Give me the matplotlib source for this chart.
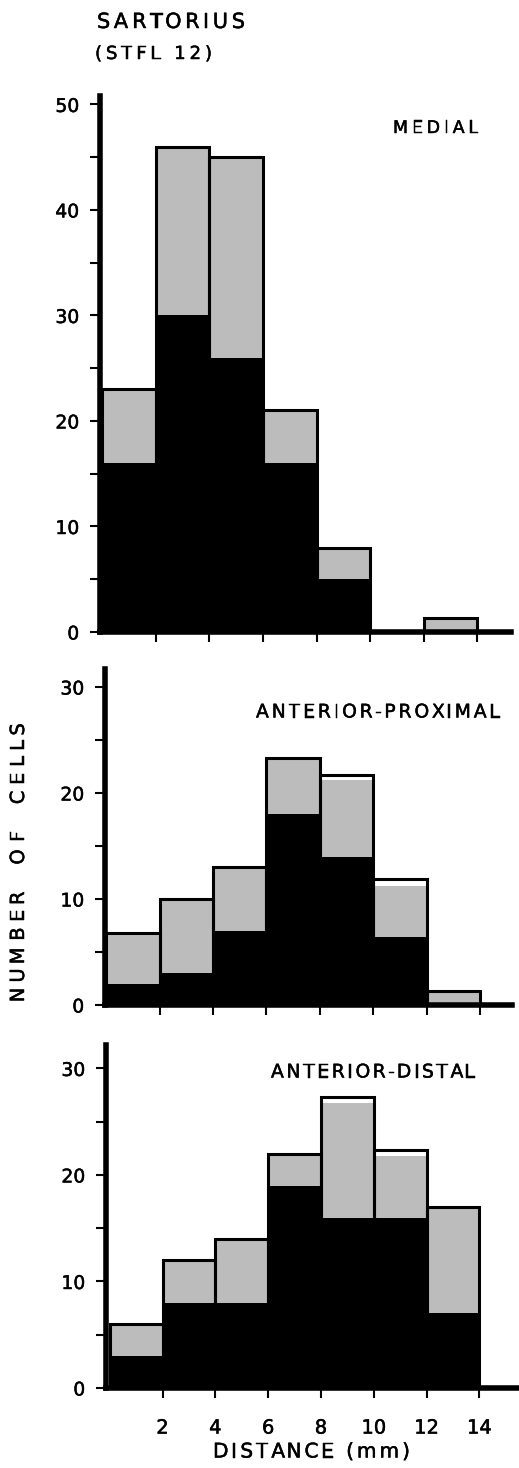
import matplotlib
matplotlib.use("Agg")
import matplotlib.pyplot as plt
import matplotlib.patheffects as pe
from matplotlib.font_manager import FontProperties

plt.rcParams['font.family'] = ['DejaVu Sans']

W, H = 519, 1468

# Distance bins (mm): left edges, each 2 mm wide
bin_left = [0, 2, 4, 6, 8, 10, 12]
bin_width = 2

# Stacked counts per bin: black (bottom), stippled (cumulative top), open (cumulative total)
medial_black = [16, 30, 26, 16, 5, 0, 0]
medial_gray = [23, 46, 45, 21, 8, 0, 1.3]
medial_total = [23, 46, 45, 21, 8, 0, 1.3]

ant_prox_black = [2, 3, 7, 18, 14, 6.4, 0]
ant_prox_gray = [6.8, 10, 13, 23.3, 21.2, 11.2, 1.3]
ant_prox_total = [6.8, 10, 13, 23.3, 21.7, 11.9, 1.3]

ant_dist_black = [3, 8, 8, 19, 16, 16, 7]
ant_dist_gray = [6, 12, 14, 22, 26.8, 21.8, 17]
ant_dist_total = [6, 12, 14, 22, 27.3, 22.3, 17]

x_ticks = [2, 4, 6, 8, 10, 12, 14]

GRAY = '#bcbcbc'
THICK = [pe.withStroke(linewidth=0.35, foreground='black')]

fig = plt.figure(figsize=(W / 100, H / 100), dpi=100)
renderer = fig.canvas.get_renderer()


def add_axes_px(x0, x1, ybot, ytop):
    return fig.add_axes([x0 / W, 1 - ybot / H, (x1 - x0) / W, (ybot - ytop) / H])


def draw_panel(ax, black, gray, total, xlim, ymax, ytick_max, label_ticks, show_xlabels):
    ax.bar(bin_left, total, width=bin_width, align='edge', color='white',
           edgecolor='none', zorder=1)
    ax.bar(bin_left, gray, width=bin_width, align='edge', color=GRAY,
           edgecolor='none', zorder=2)
    ax.bar(bin_left, black, width=bin_width, align='edge', color='black',
           edgecolor='none', zorder=3)
    for l, t in zip(bin_left, total):
        if t > 0:
            ax.bar(l, t, width=bin_width, align='edge', facecolor='none',
                   edgecolor='black', linewidth=2.2, zorder=4)
    ax.set_xlim(*xlim)
    ax.set_ylim(0, ymax)
    for s in ('top', 'right'):
        ax.spines[s].set_visible(False)
    ax.spines['left'].set_linewidth(4)
    ax.spines['bottom'].set_linewidth(4)
    ax.spines['left'].set_zorder(5)
    ax.spines['bottom'].set_zorder(5)
    yt = list(range(0, ytick_max + 1, 5))
    ax.set_yticks(yt)
    ax.set_yticklabels([str(v) if v in label_ticks else '' for v in yt])
    ax.tick_params(axis='y', direction='out', length=7, width=1.5, pad=8,
                   labelsize=13.5)
    ax.set_xticks(x_ticks)
    if show_xlabels:
        ax.set_xticklabels([str(v) for v in x_ticks])
    else:
        ax.set_xticklabels([])
    ax.tick_params(axis='x', direction='out', length=7, width=1.5, pad=15,
                   labelsize=14)
    for lab in ax.get_xticklabels() + ax.get_yticklabels():
        lab.set_path_effects(THICK)
    ax.patch.set_alpha(0)


ax1 = add_axes_px(100, 511, 632, 96)
draw_panel(ax1, medial_black, medial_gray, medial_total, (-0.08, 15.25), 50.8, 50,
           [0, 10, 20, 30, 40, 50], False)

ax2 = add_axes_px(105, 512, 1005, 669)
draw_panel(ax2, ant_prox_black, ant_prox_gray, ant_prox_total, (-0.05, 15.2), 31.7, 30,
           [0, 10, 20, 30], False)

ax3 = add_axes_px(106, 519, 1388, 1045)
draw_panel(ax3, ant_dist_black, ant_dist_gray, ant_dist_total, (-0.14, 15.5), 32.2, 30,
           [0, 10, 20, 30], True)


def text_width(s, size):
    prop = FontProperties(family='DejaVu Sans', size=size)
    w, _, _ = renderer.get_text_width_height_descent(s, prop, ismath=False)
    return w


def tracked_text(x, y, s, size, span, vertical=False):
    """Draw s letter by letter so that it covers `span` pixels, starting at
    (x, y) and running right (or upward when vertical)."""
    bar = text_width('|', size)
    offsets = [text_width(s[:i] + '|', size) - bar if i else 0.0 for i in range(len(s))]
    natural = text_width(s, size)
    extra = (span - natural) / max(len(s) - 1, 1)
    for i, ch in enumerate(s):
        if ch == ' ':
            continue
        d = offsets[i] + i * extra
        if vertical:
            t = fig.text(x / W, 1 - (y - d) / H, ch, fontsize=size, rotation=90,
                         ha='center', va='bottom', rotation_mode='anchor')
        else:
            t = fig.text((x + d) / W, 1 - y / H, ch, fontsize=size,
                         ha='left', va='center')
        t.set_path_effects(THICK)


tracked_text(97, 22, 'SARTORIUS', 15, 148)
tracked_text(95, 54, '(STFL 12)', 13, 117)
tracked_text(393, 128, 'MEDIAL', 12.5, 85)
tracked_text(256, 712, 'ANTERIOR-PROXIMAL', 13.5, 244)
tracked_text(271, 1072, 'ANTERIOR-DISTAL', 13.5, 204)
tracked_text(28, 995, 'NUMBER  OF  CELLS', 14, 278, vertical=True)
tracked_text(213, 1452, 'DISTANCE (mm)', 14.5, 197)

fig.savefig('out.png', dpi=100, facecolor='white')
